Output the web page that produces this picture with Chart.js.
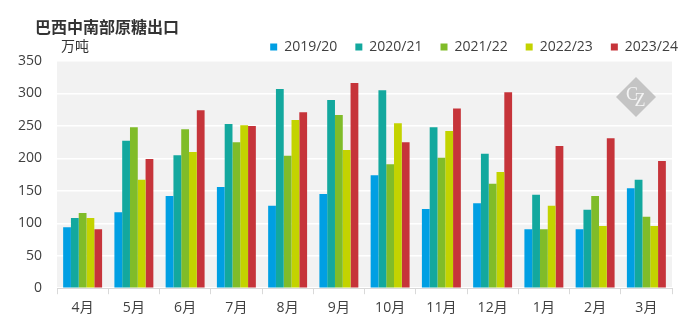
<!DOCTYPE html>
<html>
<head>
<meta charset="utf-8">
<script src="https://cdn.jsdelivr.net/npm/chart.js@4/dist/chart.umd.min.js"></script>
<style>
html,body{margin:0;padding:0;background:#fff;}
#wrap{position:relative;width:689px;height:329px;}
</style>
</head>
<body>
<div id="wrap"><canvas id="c" width="689" height="329"></canvas></div>
<script>
const categories = ['4月','5月','6月','7月','8月','9月','10月','11月','12月','1月','2月','3月'];
const seriesNames = ['2019/20','2020/21','2021/22','2022/23','2023/24'];
const s2019 = [94,117,142,156,127,145,174,122,131,91,91,154];
const s2020 = [108,227,205,253,307,290,305,248,207,144,121,167];
const s2021 = [116,248,245,225,204,267,191,201,161,91,142,110];
const s2022 = [108,167,210,251,259,213,254,242,179,127,96,96];
const s2023 = [91,199,274,250,271,316,225,277,302,219,231,196];
const yTicks = [0,50,100,150,200,250,300,350];
const colors = ['#009fe3','#13a89e','#80bc29','#c3d300','#c6343a'];
const titleText = '巴西中南部原糖出口';
const unitText = '万吨';

const FONT = '"Noto Sans CJK SC", "Noto Sans", sans-serif';
const TFONT = '"Open Sans", "Noto Sans CJK SC", sans-serif';

const bgPlugin = {
  id: 'bg',
  afterLayout(chart) {
    const lg = chart.legend;
    if (lg) {
      const dx = 696 - lg.right;
      lg.left += dx; lg.right += dx;
      const dy = 3;
      lg.top += dy; lg.bottom += dy;
    }
  },
  beforeDraw(chart) {
    const {ctx, chartArea:a} = chart;
    ctx.save();
    ctx.fillStyle = '#f2f2f2';
    ctx.fillRect(a.left, a.top, a.right - a.left, a.bottom - a.top);
    ctx.restore();
  },
  afterDraw(chart) {
    const {ctx, chartArea:a} = chart;
    ctx.save();
    ctx.fillStyle = '#333333';
    ctx.font = 'bold 16px ' + FONT;
    ctx.textBaseline = 'middle';
    ctx.fillText(titleText, 35, 27);
    ctx.font = '14px ' + FONT;
    ctx.fillText(unitText, 61, 46);
    // watermark
    const cx = a.right - 36, cy = a.top + 36, r = 20;
    ctx.fillStyle = '#c4c4c4';
    ctx.beginPath();
    ctx.moveTo(cx, cy - r); ctx.lineTo(cx + r, cy); ctx.lineTo(cx, cy + r); ctx.lineTo(cx - r, cy);
    ctx.closePath(); ctx.fill();
    ctx.fillStyle = '#f4f4f4';
    ctx.font = '18px "Liberation Serif", serif';
    ctx.textAlign = 'center';
    ctx.fillText('C', cx - 4, cy - 2);
    ctx.fillText('Z', cx + 4, cy + 4);
    ctx.restore();
  }
};

const datasets = [s2019, s2020, s2021, s2022, s2023].map((d, i) => ({
  label: seriesNames[i],
  data: d,
  backgroundColor: colors[i],
  borderWidth: 0,
  categoryPercentage: 0.76,
  barPercentage: 1.0
}));

new Chart(document.getElementById('c'), {
  type: 'bar',
  data: { labels: categories, datasets },
  plugins: [bgPlugin],
  options: {
    responsive: false,
    animation: false,
    devicePixelRatio: 1,
    layout: { padding: { left: 0, right: 17, top: 19, bottom: 8 } },
    plugins: {
      title: { display: false },
      tooltip: { enabled: false },
      legend: {
        position: 'top',
        align: 'end',
        labels: {
          boxWidth: 7, boxHeight: 7, padding: 18,
          color: '#404040',
          font: { family: TFONT, size: 14 }
        }
      }
    },
    scales: {
      x: {
        offset: true,
        grid: { offset: true, drawOnChartArea: false, drawTicks: true, tickLength: 6, color: '#d9d9d9' },
        border: { display: true, color: '#d9d9d9', width: 1 },
        ticks: { color: '#404040', font: { family: TFONT, size: 14 }, padding: 5 }
      },
      y: {
        min: 0, max: 350,
        afterFit(scale) { scale.width = 57; },
        afterBuildTicks(scale) { scale.ticks = yTicks.map(v => ({ value: v })); },
        grid: { color: '#ffffff', lineWidth: 1.5, drawTicks: false },
        border: { display: false },
        ticks: { color: '#404040', font: { family: TFONT, size: 14 }, padding: 15 }
      }
    }
  }
});
</script>
</body>
</html>
